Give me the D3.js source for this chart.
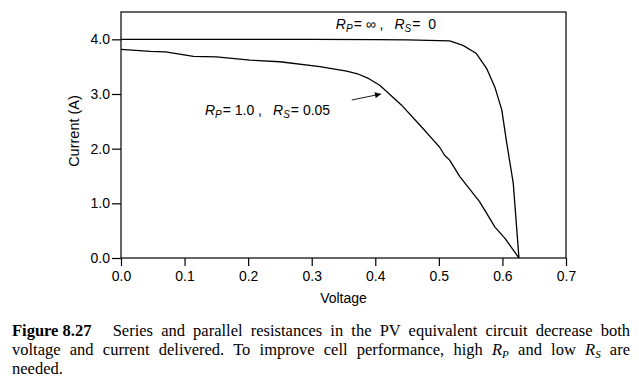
<!DOCTYPE html>
<html>
<head>
<meta charset="utf-8">
<script src="https://cdn.jsdelivr.net/npm/d3@7"></script>
<style>
  body { margin: 0; background: #fff; }
  svg { display: block; }
</style>
</head>
<body>
<svg width="639" height="386"></svg>
<script>
// ideal cell: Rp = inf, Rs = 0
var idealV = [0, 0.1, 0.2, 0.3, 0.4, 0.45, 0.517, 0.538, 0.559, 0.575, 0.588, 0.599, 0.606, 0.617, 0.626];
var idealI = [4.0, 4.0, 4.0, 4.0, 3.995, 3.99, 3.97, 3.89, 3.74, 3.47, 3.13, 2.71, 2.16, 1.37, 0];

// Rp = 1.0, Rs = 0.05
var lossyV = [0, 0.046, 0.07, 0.114, 0.15, 0.203, 0.25, 0.313, 0.329, 0.355, 0.372, 0.39, 0.407, 0.441, 0.475, 0.491, 0.501, 0.509, 0.517, 0.533, 0.564, 0.575, 0.588, 0.604, 0.626];
var lossyI = [3.815, 3.78, 3.77, 3.69, 3.68, 3.62, 3.59, 3.5, 3.47, 3.42, 3.37, 3.28, 3.16, 2.8, 2.37, 2.16, 2.03, 1.88, 1.79, 1.49, 1.03, 0.82, 0.57, 0.36, 0];

var xTicks = [0, 0.1, 0.2, 0.3, 0.4, 0.5, 0.6, 0.7];
var yTicks = [0, 1, 2, 3, 4];

var sans = "'Liberation Sans', Arial, Helvetica, sans-serif";
var serif = "'Liberation Serif', 'Times New Roman', serif";

var svg = d3.select("svg");

var x = d3.scaleLinear().domain([0, 0.7]).range([121, 566]);
var y = d3.scaleLinear().domain([0, 4.5]).range([258, 12]);

// frame
svg.append("rect")
  .attr("x", x(0))
  .attr("y", y(4.5))
  .attr("width", x(0.7) - x(0))
  .attr("height", y(0) - y(4.5))
  .attr("fill", "none")
  .attr("stroke", "#000")
  .attr("stroke-width", 1.2);

var fmt = d3.format(".1f");

var xAxis = svg.append("g")
  .attr("transform", "translate(0," + y(0) + ")")
  .call(d3.axisBottom(x).tickValues(xTicks).tickFormat(fmt).tickSize(8).tickPadding(5.5));

var yAxis = svg.append("g")
  .attr("transform", "translate(" + x(0) + ",0)")
  .call(d3.axisLeft(y).tickValues(yTicks).tickFormat(fmt).tickSize(9).tickPadding(2));

[xAxis, yAxis].forEach(function (g) {
  g.select(".domain").remove();
  g.selectAll("line").attr("stroke", "#000").attr("stroke-width", 1.2);
  g.selectAll("text")
    .attr("fill", "#000")
    .style("font-family", sans)
    .style("font-size", "14px");
});

// axis titles
svg.append("text")
  .attr("x", (x(0) + x(0.7)) / 2)
  .attr("y", 303)
  .attr("text-anchor", "middle")
  .style("font-family", sans)
  .style("font-size", "14px")
  .text("Voltage");

svg.append("text")
  .attr("transform", "translate(79,131) rotate(-90)")
  .attr("text-anchor", "middle")
  .style("font-family", sans)
  .style("font-size", "14.5px")
  .text("Current (A)");

// curves
var line = d3.line()
  .x(function (d) { return x(d[0]); })
  .y(function (d) { return y(d[1]); });

var curves = [d3.zip(idealV, idealI), d3.zip(lossyV, lossyI)];

svg.append("g")
  .selectAll("path")
  .data(curves)
  .enter()
  .append("path")
  .attr("d", line)
  .attr("fill", "none")
  .attr("stroke", "#000")
  .attr("stroke-width", 1.3)
  .attr("stroke-linejoin", "round");

// curve labels: R_P = ..., R_S = ...
function rLabel(v, i, rp, rs) {
  var t = svg.append("text")
    .attr("x", x(v))
    .attr("y", y(i))
    .style("font-family", sans)
    .style("font-size", "14px")
    .style("white-space", "pre");
  t.append("tspan").style("font-style", "italic").text("R");
  t.append("tspan").style("font-style", "italic").style("font-size", "10px").attr("dy", 3).text("P");
  t.append("tspan").attr("dy", -3).attr("dx", 1).text("= " + rp + " ,");
  t.append("tspan").attr("dx", 11).style("font-style", "italic").text("R");
  t.append("tspan").style("font-style", "italic").style("font-size", "10px").attr("dy", 3).text("S");
  t.append("tspan").attr("dy", -3).attr("dx", 1).text("= " + rs);
}
rLabel(0.338, 4.185, "\u221E", " 0");
rLabel(0.132, 2.615, "1.0", "0.05");

// arrow
svg.append("defs").append("marker")
  .attr("id", "head")
  .attr("viewBox", "0 0 10 10")
  .attr("refX", 10)
  .attr("refY", 5)
  .attr("markerWidth", 9)
  .attr("markerHeight", 6)
  .attr("orient", "auto")
  .attr("markerUnits", "userSpaceOnUse")
  .append("path")
  .attr("d", "M0,0L10,5L0,10z")
  .attr("fill", "#000");

svg.append("line")
  .attr("x1", x(0.363))
  .attr("y1", y(2.89))
  .attr("x2", x(0.409))
  .attr("y2", y(3.0))
  .attr("stroke", "#000")
  .attr("stroke-width", 0.9)
  .attr("marker-end", "url(#head)");

// caption
var capLeft = 12, capRight = 630, capSize = 16.5, lead = 19.2, base = 336;

svg.append("text")
  .attr("x", capLeft)
  .attr("y", base)
  .style("font-family", serif)
  .style("font-size", capSize + "px")
  .style("font-weight", "bold")
  .text("Figure 8.27");

// each line: list of [text, style] segments
var capLines = [
  { x0: 112.7, justify: true, segs: [["Series and parallel resistances in the PV equivalent circuit decrease both"]] },
  { x0: capLeft, justify: true, segs: [
    ["voltage and current delivered. To improve cell performance, high "],
    ["R", "i"], ["P", "sub"], [" and low "], ["R", "i"], ["S", "sub"], [" are"]
  ] },
  { x0: capLeft, justify: false, segs: [["needed."]] }
];

capLines.forEach(function (ln, k) {
  var t = svg.append("text")
    .attr("x", ln.x0)
    .attr("y", base + k * lead)
    .style("font-family", serif)
    .style("font-size", capSize + "px");
  var shift = 0;
  ln.segs.forEach(function (s) {
    var sp = t.append("tspan").text(s[0]);
    if (s[1] === "i") sp.style("font-style", "italic");
    if (s[1] === "sub") {
      sp.style("font-style", "italic").style("font-size", "11px").attr("dy", 3);
      shift = 3;
    } else if (shift) {
      sp.attr("dy", -shift);
      shift = 0;
    }
  });
  if (ln.justify) {
    var full = ln.segs.map(function (s) { return s[0]; }).join("");
    var gaps = (full.match(/ /g) || []).length;
    var w = t.node().getComputedTextLength();
    var extra = (capRight - ln.x0 - w) / gaps;
    t.style("word-spacing", extra + "px");
  }
});
</script>
</body>
</html>
